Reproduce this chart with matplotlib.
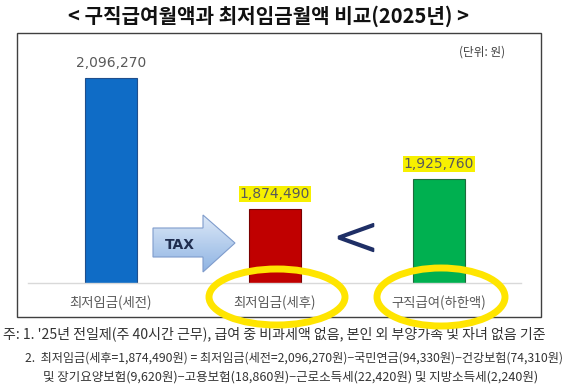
import matplotlib
matplotlib.use("Agg")
import matplotlib.pyplot as plt
import matplotlib.patheffects as pe
import numpy as np
from matplotlib.patches import Rectangle, Polygon, Ellipse

plt.rcParams['font.family'] = ['Noto Sans CJK KR', 'DejaVu Sans']

# data (won, 2025)
categories = ["최저임금(세전)", "최저임금(세후)", "구직급여(하한액)"]
values = [2096270, 1874490, 1925760]
bar_colors = ["#0f6cc6", "#c00000", "#00b050"]
edge_colors = ["#1f4e8c", "#7a0000", "#1e6b3c"]
highlighted = [False, True, True]

title = "< 구직급여월액과 최저임금월액 비교(2025년) >"
unit_text = "(단위: 원)"
notes = [
    "주: 1. '25년 전일제(주 40시간 근무), 급여 중 비과세액 없음, 본인 외 부양가족 및 자녀 없음 기준",
    "2.  최저임금(세후=1,874,490원) = 최저임금(세전=2,096,270원)−국민연금(94,330원)−건강보험(74,310원)",
    "및 장기요양보험(9,620원)−고용보험(18,860원)−근로소득세(22,420원) 및 지방소득세(2,240원)",
]

W, H = 573, 391
fig = plt.figure(figsize=(W / 100, H / 100), dpi=100)
fig.patch.set_facecolor("white")

# chart area (pixel box 28..521 x 40..283)
ax = fig.add_axes([28 / W, 1 - 283 / H, 493 / W, 243 / H])
x = np.arange(len(categories))
bars = ax.bar(x, values, width=0.317, color=bar_colors, edgecolor=edge_colors, linewidth=0.8)
ax.set_xlim(-0.506, 2.5)
ax.set_ylim(1750000, 2161000)
for s in ["top", "right", "left"]:
    ax.spines[s].set_visible(False)
ax.spines["bottom"].set_color("#d9d9d9")
ax.spines["bottom"].set_linewidth(1)
ax.set_yticks([])
ax.set_xticks(x)
ax.set_xticklabels(categories, fontsize=9.6, color="#595959")
ax.tick_params(axis="x", length=0, pad=9)

for xi, v, hl in zip(x, values, highlighted):
    kw = {}
    if hl:
        kw["bbox"] = dict(facecolor="#f7f000", edgecolor="none", pad=0.6)
    ax.annotate(f"{v:,}", (xi, v), xytext=(0, 11), textcoords="offset points",
                ha="center", va="center", fontsize=10, color="#595959",
                family="DejaVu Sans", **kw)

# overlay in pixel coordinates for the decorations
ov = fig.add_axes([0, 0, 1, 1], zorder=5)
ov.axis("off")
ov.patch.set_alpha(0)

ov.add_patch(Rectangle((17, 33), 524, 284, fill=False, edgecolor="#404040", linewidth=1))

ov.text(268, 16, title, ha="center", va="center", fontsize=14.5, fontweight="bold", color="#111111")
ov.text(482, 52, unit_text, ha="center", va="center", fontsize=8.4, color="#404040")

# TAX arrow with gradient fill
arrow = Polygon([(153, 228), (203, 228), (203, 215), (235, 243), (203, 272),
                 (203, 257), (153, 257)], closed=True, facecolor="none",
                edgecolor="#7f9ccc", linewidth=0.8, zorder=3)
ov.add_patch(arrow)
grad = np.linspace(0, 1, 64).reshape(-1, 1)
cmap = matplotlib.colors.LinearSegmentedColormap.from_list("g", ["#dce8f7", "#8fb4e3"])
im = ov.imshow(grad, extent=(153, 235, 272, 215), cmap=cmap, aspect="auto", zorder=2)
im.set_clip_path(arrow)
ov.set_xlim(0, W)
ov.set_ylim(H, 0)
ov.text(180, 245, "TAX", ha="center", va="center", fontsize=10, fontweight="bold",
        color="#1f2d4f", family="DejaVu Sans", zorder=4)

ov.text(356, 240, "<", ha="center", va="center", fontsize=40, color="#1f2f66",
        family="DejaVu Sans", fontweight="light",
        path_effects=[pe.withStroke(linewidth=1.3, foreground="#1f2f66")])

# hand-drawn highlight loops
ov.add_patch(Ellipse((277, 297), 136, 56, fill=False, edgecolor="#ffe500", linewidth=5, zorder=6))
ov.add_patch(Ellipse((441, 297), 128, 58, fill=False, edgecolor="#ffe500", linewidth=5, zorder=6))

ov.text(3, 334, notes[0], ha="left", va="center", fontsize=10.1, color="#333333")
ov.text(25, 358, notes[1], ha="left", va="center", fontsize=8.75, color="#333333")
ov.text(43, 377, notes[2], ha="left", va="center", fontsize=9.0, color="#333333")

fig.savefig("out.png", dpi=100, facecolor="white")
